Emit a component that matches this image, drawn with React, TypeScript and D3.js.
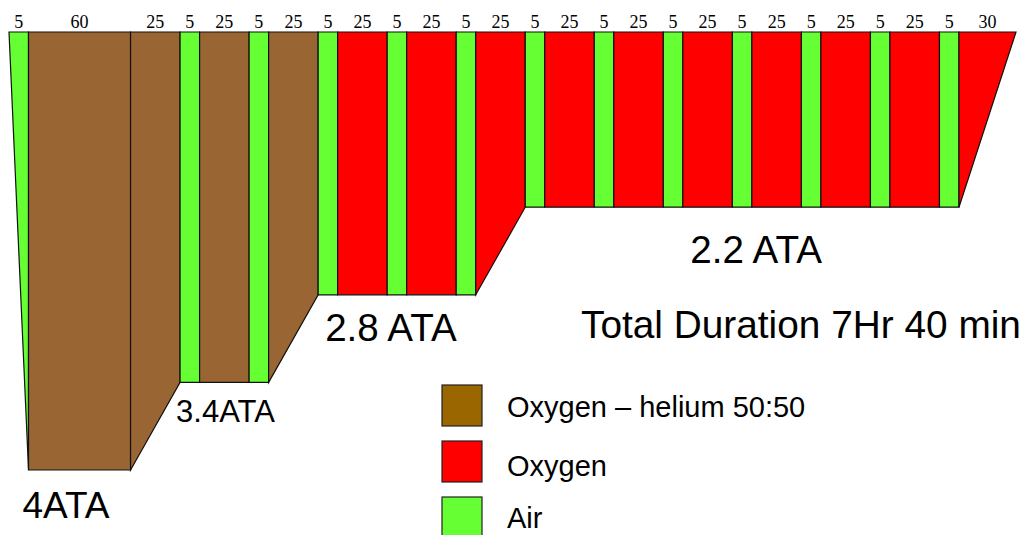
import { useEffect, useRef } from 'react'
import * as d3 from 'd3'

// minutes spent in each step of the table, left to right
const DURATIONS = [5, 60, 25, 5, 25, 5, 25, 5, 25, 5, 25, 5, 25, 5, 25, 5, 25, 5, 25, 5, 25, 5, 25, 5, 25, 5, 30]

// breathing gas for each step
const GASES = [
  'air', 'heliox', 'heliox', 'air', 'heliox', 'air', 'heliox',
  'air', 'oxygen', 'air', 'oxygen', 'air', 'oxygen',
  'air', 'oxygen', 'air', 'oxygen', 'air', 'oxygen', 'air', 'oxygen',
  'air', 'oxygen', 'air', 'oxygen', 'air', 'oxygen',
]

// chamber pressure (ATA) at each step boundary (one more than the steps)
const PRESSURES = [
  1,
  4, 4,
  3.4, 3.4, 3.4, 3.4,
  2.8, 2.8, 2.8, 2.8, 2.8, 2.8,
  2.2, 2.2, 2.2, 2.2, 2.2, 2.2, 2.2, 2.2, 2.2, 2.2, 2.2, 2.2, 2.2, 2.2,
  1,
]

const LEVEL_ATA = [4, 3.4, 2.8, 2.2]
const LEVEL_LABELS = ['4ATA', '3.4ATA', '2.8 ATA', '2.2 ATA']

const LEGEND_KEYS = ['heliox', 'oxygen', 'air']
const LEGEND_LABELS = ['Oxygen – helium 50:50', 'Oxygen', 'Air']

const TOTAL_LABEL = 'Total Duration 7Hr 40 min'

const WIDTH = 1029
const HEIGHT = 535

const gasColor: Record<string, string> = {
  air: '#66ff33',
  heliox: '#996633',
  oxygen: '#ff0000',
}
const legendColor: Record<string, string> = {
  air: '#66ff33',
  heliox: '#996600',
  oxygen: '#ff0000',
}

const SANS = '"Liberation Sans", Arial, Helvetica, sans-serif'
const SERIF = '"Liberation Serif", "Times New Roman", serif'

export default function App() {
  const svgRef = useRef<SVGSVGElement>(null)

  useEffect(() => {
    if (!svgRef.current) return
    const svg = d3.select(svgRef.current)
    svg.selectAll('*').remove()

    // the drawing is schematic: every step gets a fixed base width plus a
    // part proportional to its duration, so short steps stay readable
    const stepWidth = d3.scaleLinear().domain([0, 60]).range([12, 102])
    const units = DURATIONS.map(d => stepWidth(d))
    const edges = [0, ...d3.cumsum(units)]

    const x = d3.scaleLinear().domain([0, edges[edges.length - 1]]).range([9, 1016])
    const y = d3.scaleLinear().domain([1, 4]).range([32, 470])

    const steps = DURATIONS.map((d, i) => ({
      duration: d,
      gas: GASES[i],
      x0: x(edges[i]),
      x1: x(edges[i + 1]),
      p0: PRESSURES[i],
      p1: PRESSURES[i + 1],
    }))

    const line = d3.line<[number, number]>()

    // profile steps
    svg.append('g')
      .selectAll('path')
      .data(steps)
      .join('path')
      .attr('d', s => line([
        [s.x0, y(1)],
        [s.x1, y(1)],
        [s.x1, y(s.p1)],
        [s.x0, y(s.p0)],
      ]) + 'Z')
      .attr('fill', s => gasColor[s.gas])
      .attr('stroke', '#111')
      .attr('stroke-width', 1.2)
      .attr('stroke-linejoin', 'miter')

    // duration labels on top
    svg.append('g')
      .selectAll('text')
      .data(steps)
      .join('text')
      .attr('x', s => (s.x0 + s.x1) / 2)
      .attr('y', 28)
      .attr('text-anchor', 'middle')
      .attr('font-family', SERIF)
      .attr('font-size', 18)
      .attr('fill', '#000')
      .text(s => s.duration)

    // pressure level labels, placed by the holds at that level
    const holdSpan = (ata: number) => {
      const held = steps.filter(s => s.p0 === ata && s.p1 === ata)
      return [held[0].x0, held[held.length - 1].x1]
    }
    const levelText = svg.append('g')
      .attr('font-family', SANS)
      .attr('fill', '#000')
    LEVEL_ATA.forEach((ata, i) => {
      const [a, b] = holdSpan(ata)
      const t = levelText.append('text').text(LEVEL_LABELS[i])
      if (i === 0) t.attr('x', a - 6).attr('y', y(ata) + 48).attr('font-size', 37)
      if (i === 1) t.attr('x', a - 4).attr('y', y(ata) + 40).attr('font-size', 31)
      if (i === 2) t.attr('x', a + 7).attr('y', y(ata) + 46).attr('font-size', 38.6)
      if (i === 3) t.attr('x', (a + b) / 2 + 14).attr('y', y(ata) + 56)
        .attr('font-size', 38.6).attr('text-anchor', 'middle')
    })

    svg.append('text')
      .attr('x', 581)
      .attr('y', 338)
      .attr('font-family', SANS)
      .attr('font-size', 38.8)
      .attr('fill', '#000')
      .text(TOTAL_LABEL)

    // legend
    const legend = svg.append('g').attr('transform', 'translate(442, 385)')
    const rows = legend.selectAll('g')
      .data(LEGEND_KEYS)
      .join('g')
      .attr('transform', (_, i) => `translate(0, ${i * 56})`)
    rows.append('rect')
      .attr('width', 40)
      .attr('height', 41)
      .attr('fill', k => legendColor[k])
      .attr('stroke', '#222')
      .attr('stroke-width', 1.2)
    rows.append('text')
      .attr('x', 65)
      .attr('y', (_, i) => (i === 2 ? 31 : 32 + i * 3))
      .attr('font-family', SANS)
      .attr('font-size', 29)
      .attr('fill', '#000')
      .text((_, i) => LEGEND_LABELS[i])
  }, [])

  return (
    <svg
      ref={svgRef}
      width={WIDTH}
      height={HEIGHT}
      viewBox={`0 0 ${WIDTH} ${HEIGHT}`}
      style={{ position: 'absolute', left: 0, top: 0, background: '#fff' }}
    />
  )
}
